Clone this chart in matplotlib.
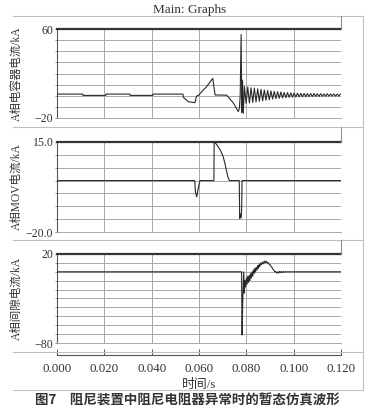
import matplotlib
matplotlib.use('Agg')
import matplotlib.pyplot as plt
from matplotlib.lines import Line2D

# ---------------- data ----------------
time_ticks = [0.000, 0.020, 0.040, 0.060, 0.080, 0.100, 0.120]
time_labels = ["0.000", "0.020", "0.040", "0.060", "0.080", "0.100", "0.120"]

# A-phase capacitor current (kA)
cap_t = [0.0000, 0.0109, 0.0110, 0.0206, 0.0207, 0.0308, 0.0309, 0.0405, 0.0406,
         0.0532, 0.0534, 0.0555, 0.0583, 0.0590, 0.0598, 0.0611, 0.0632, 0.0658,
         0.0668, 0.0717, 0.0745, 0.0766, 0.0771, 0.0774, 0.0778, 0.0781, 0.0784,
         0.0787]
cap_v = [1.5, 1.5, 0.3, 0.3, 1.5, 1.5, 0.3, 0.3, 1.5,
         1.5, -1.4, -5.4, -6.2, -0.2, 0.3, 3.6, 8.1, 15.6,
         0.7, 0.5, -6.5, -14.3, -11.0, 0.0, 55.0, -15.0, 14.0,
         -16.0]
cap_osc_t = [0.0792, 0.0799, 0.0806, 0.0813, 0.0820, 0.0827, 0.0834, 0.0841, 0.0848, 0.0855,
             0.0862, 0.0869, 0.0876, 0.0883, 0.0890, 0.0897, 0.0904, 0.0911, 0.0918, 0.0925,
             0.0932, 0.0939, 0.0946, 0.0953, 0.0960, 0.0967, 0.0974, 0.0981, 0.0988, 0.0995,
             0.1002, 0.1009, 0.1016, 0.1023, 0.1030, 0.1037, 0.1044, 0.1051, 0.1058, 0.1065,
             0.1072, 0.1079, 0.1086, 0.1093, 0.1100, 0.1107, 0.1114, 0.1121, 0.1128, 0.1135,
             0.1142, 0.1149, 0.1156, 0.1163, 0.1170, 0.1177, 0.1184, 0.1191, 0.1198]
cap_osc_v = [8.2, -6.8, 7.8, -6.5, 7.2, -6.0, 6.8, -5.6, 6.2, -5.0,
             5.8, -4.6, 5.2, -4.0, 4.8, -3.6, 4.3, -3.0, 3.9, -2.6,
             3.6, -2.3, 3.3, -2.0, 3.0, -1.8, 2.8, -1.5, 2.6, -1.3,
             2.4, -1.1, 2.3, -1.0, 2.2, -0.9, 2.1, -0.8, 2.0, -0.7,
             1.9, -0.6, 1.9, -0.5, 1.8, -0.5, 1.8, -0.4, 1.7, -0.4,
             1.7, -0.3, 1.6, -0.3, 1.6, -0.3, 1.5, -0.2, 1.5]

# A-phase MOV current (kA)
mov_t = [0.0000, 0.0582, 0.0585, 0.0590, 0.0594, 0.0598, 0.0604,
         0.0663, 0.0664, 0.0672, 0.0680, 0.0689, 0.0697, 0.0703, 0.0710, 0.0717, 0.0722, 0.0728,
         0.0770, 0.0772, 0.0775, 0.0777, 0.0780, 0.0782, 0.1200]
mov_v = [0, 0, -4.5, -6.3, -4.5, -2.5, 0,
         0, 15, 14.3, 13.3, 12, 10.5, 9, 6.5, 3.5, 1.5, 0,
         0, -14.7, -13, -14.5, -12, 0, 0]

# A-phase gap current (kA)
gap_t = [0.0000, 0.0780, 0.0782, 0.0785, 0.0789, 0.0791, 0.0794, 0.0797, 0.0800, 0.0803,
         0.0806, 0.0809, 0.0812, 0.0815, 0.0818, 0.0821, 0.0824, 0.0827, 0.0830, 0.0833,
         0.0836, 0.0839, 0.0842, 0.0845, 0.0848, 0.0851, 0.0854, 0.0857, 0.0860, 0.0864,
         0.0868, 0.0872, 0.0876, 0.0880, 0.0884, 0.0888, 0.0892, 0.0896, 0.0900, 0.0904,
         0.0908, 0.0912, 0.0916, 0.0920, 0.0924, 0.0928, 0.0932, 0.0936, 0.0940, 0.0944,
         0.0948, 0.0952, 0.0956, 0.0960, 0.0964, 0.1200]
gap_v = [0, 0, -71, -30, 0, -24, -10, -17, -7, -14,
         -5, -12, -4, -10, -2, -7, 0, -5, 2, -2,
         4, 0, 5, 2, 7, 4, 8, 6, 10, 8,
         11, 9, 12, 10, 12, 10, 10.5, 8.5, 8, 6,
         5, 3, 2, 0, 0.5, -1.5, 0, -1.5, 0.5, -1,
         0.5, -0.8, 0.3, -0.5, 0, 0]

cap_ticks = [-20, -10, 0, 10, 20, 30, 40, 50, 60]
mov_ticks = [-20, -15, -10, -5, 0, 5, 10, 15]
gap_ticks = [-80, -70, -60, -50, -40, -30, -20, -10, 0, 10, 20]

cap_label = "A相电容器电流/kA"
mov_label = "A相MOV电流/kA"
gap_label = "A相间隙电流/kA"
title_text = "Main: Graphs"
xlabel_text = "时间/s"
caption_text = "图7　阻尼装置中阻尼电阻器异常时的暂态仿真波形"

# ---------------- figure ----------------
W, H = 374, 420
fig = plt.figure(figsize=(W / 100, H / 100), dpi=100)
fig.patch.set_facecolor('white')

def fx(px):
    return px / W

def fy(py):
    return 1 - py / H

SERIF = ['Liberation Serif', 'Noto Sans CJK SC']
GRID = '#a8a8a8'
FRAME = '#c0c0c0'
SIG = '#2a2a2a'

L, R = 57, 341

def line_fig(x0, y0, x1, y1, color=FRAME, lw=0.8):
    fig.add_artist(Line2D([fx(x0), fx(x1)], [fy(y0), fy(y1)],
                          transform=fig.transFigure, color=color, lw=lw))

# outer frame and separators
line_fig(13, 16, 363, 16)
line_fig(363, 16, 363, 390)
line_fig(13, 390, 363, 390)
for ys in (127, 240, 352):
    line_fig(13, ys, 363, ys)
for (y0, y1) in ((16, 29), (127, 142), (240, 254)):
    line_fig(R, y0, R, y1, color='#909090', lw=0.8)

fig.text(fx(190), fy(10), title_text, ha='center', va='center',
         fontsize=9.5, family=SERIF, color='#333333')

panels = [
    (29, 118, cap_ticks, ["60"] + [""] * 7 + ["\u221220"], cap_label,
     [(cap_t, cap_v), (cap_osc_t, cap_osc_v)]),
    (142, 232, mov_ticks, ["15.0"] + [""] * 6 + ["\u221220.0"], mov_label,
     [(mov_t, mov_v)]),
    (254, 343, gap_ticks, ["20"] + [""] * 9 + ["\u221280"], gap_label,
     [(gap_t, gap_v)]),
]

for (ytop, ybot, ticks, labels, ylab, series) in panels:
    ax = fig.add_axes([fx(L), fy(ybot), fx(R) - fx(L), fy(ytop) - fy(ybot)])
    ax.set_facecolor('white')
    xs, vs = [], []
    for (t, v) in series:
        xs += list(t)
        vs += list(v)
    ax.plot(xs, vs, color=SIG, lw=0.8, zorder=3)
    ax.set_xlim(0, 0.12)
    ax.set_ylim(ticks[0], ticks[-1])
    ax.set_xticks(time_ticks)
    ax.set_yticks(ticks[::-1])
    ax.set_yticklabels(labels)
    ax.grid(True, color=GRID, lw=0.7, zorder=1)
    ax.tick_params(axis='x', length=0, labelbottom=False)
    ax.tick_params(axis='y', length=1.6, width=0.6, color='#808080',
                   labelsize=8.6, pad=1, labelcolor='#333333')
    for lab in ax.get_yticklabels():
        lab.set_family(SERIF)
    ax.spines['top'].set_color('#333333')
    ax.spines['top'].set_linewidth(1.6)
    ax.spines['top'].set_zorder(4)
    ax.spines['left'].set_color('#555555')
    ax.spines['left'].set_linewidth(0.8)
    ax.spines['bottom'].set_color(GRID)
    ax.spines['bottom'].set_linewidth(0.7)
    ax.spines['right'].set_visible(False)
    fig.text(fx(16.5), (fy(ytop) + fy(ybot)) / 2, ylab, rotation=90,
             ha='center', va='center', fontsize=8.3, family=SERIF, color='#333333')

# x axis
axx = fig.add_axes([fx(L), fy(355), fx(R) - fx(L), 0.0001])
axx.set_xlim(0, 0.12)
axx.set_xticks(time_ticks)
axx.set_xticklabels(time_labels)
axx.set_yticks([])
for s in ('top', 'left', 'right'):
    axx.spines[s].set_visible(False)
axx.spines['bottom'].set_color('#555555')
axx.spines['bottom'].set_linewidth(0.8)
axx.tick_params(axis='x', direction='in', length=4, width=0.7, color='#555555',
                labelsize=9.3, pad=6, labelcolor='#333333')
for lab in axx.get_xticklabels():
    lab.set_family(SERIF)
axx.patch.set_visible(False)

fig.text(fx(199), fy(385), xlabel_text, ha='center', va='center',
         fontsize=9.3, family=SERIF, color='#333333')

fig.text(fx(187), fy(401), caption_text, ha='center', va='center',
         fontsize=9.7, fontweight='bold', family=['Noto Sans CJK SC', 'DejaVu Sans'],
         color='#333333')

fig.savefig('out.png', dpi=100, facecolor='white')
